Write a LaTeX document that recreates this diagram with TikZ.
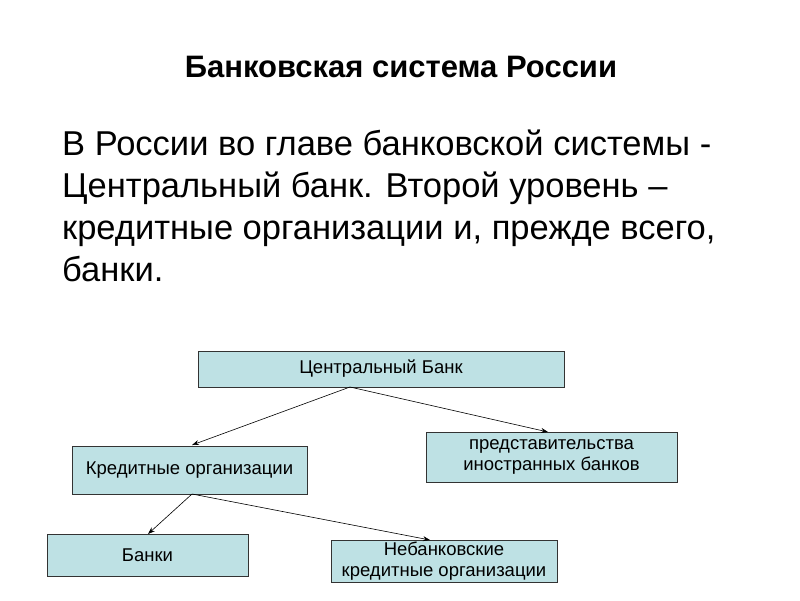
\documentclass[tikz,border=0pt]{standalone}
\usepackage{fontspec}
\setmainfont{Liberation Sans}
\usetikzlibrary{arrows.meta}
\begin{document}
\begin{tikzpicture}[x=1pt,y=-1pt,
  box/.style={draw=black!80,fill={rgb,255:red,190;green,225;blue,228},line width=0.8pt,inner sep=0pt,align=center,font=\fontsize{18.5}{21}\selectfont},
  arr/.style={-{Stealth[length=7pt,width=5pt]},line width=0.6pt}]
\useasboundingbox (0,0) rectangle (800,600);
\node[font=\bfseries\fontsize{31}{36}\selectfont,anchor=base] (title) at (401,77) {Банковская система России};
\node[anchor=base west,align=left,font=\fontsize{34.5}{42}\selectfont,inner sep=0pt] (body) at (62,281)
 {В России во главе банковской системы -\\Центральный банк. Второй уровень –\\кредитные организации и, прежде всего,\\банки.};
\node[box,minimum width=366,minimum height=36] (cb) at (381,369) {Центральный Банк};
\node[box,minimum width=235,minimum height=48] (ko) at (189.5,470) {Кредитные организации};
\node[box,minimum width=251,minimum height=50] (pr) at (551.5,457) {представительства\\ иностранных банков};
\node[box,minimum width=201,minimum height=42] (b) at (147.5,555) {Банки};
\node[box,minimum width=226,minimum height=42] (nb) at (444,561) {Небанковские\\кредитные организации};
\coordinate (c1) at (350,387);
\coordinate (c2) at (192,494);
\draw[arr] (c1) -- (192,445);
\draw[arr] (c1) -- (548,432);
\draw[arr] (c2) -- (148,534);
\draw[arr] (c2) -- (430,540);
\end{tikzpicture}
\end{document}
